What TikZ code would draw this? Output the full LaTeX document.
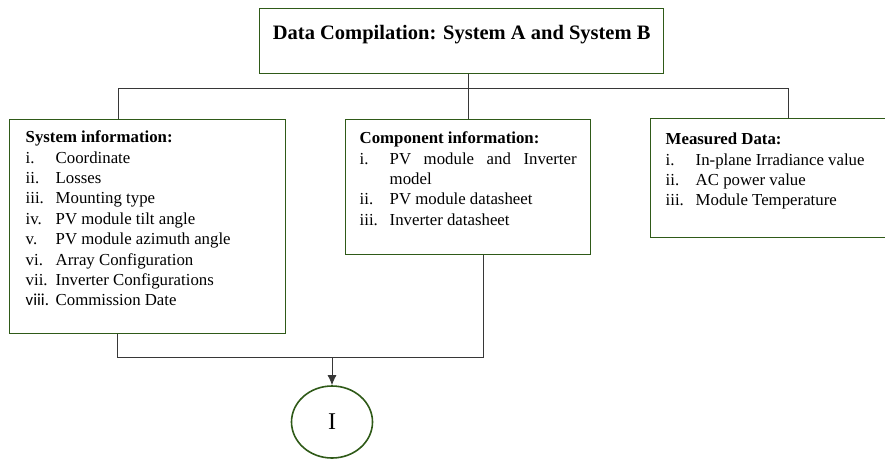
\documentclass[tikz,border=0pt]{standalone}
\usepackage{fontspec}
\setmainfont{Liberation Serif}
\newfontfamily\labelfont{Carlito}
\usetikzlibrary{shapes.geometric,arrows.meta}
\definecolor{boxgreen}{RGB}{47,90,24}
\definecolor{linegray}{RGB}{55,55,55}
\newcommand{\entry}[2]{\hangindent=30pt\hangafter=1\noindent\makebox[30pt][l]{#1}#2\par}

\begin{document}
\begin{tikzpicture}[x=1pt,y=-1pt,
    box/.style={draw=boxgreen,line width=1.4pt,shape=rectangle,anchor=north west,inner ysep=8.7pt,font=\fontsize{16.8}{20.4}\selectfont},
    link/.style={draw=linegray,line width=0.9pt}]
  \clip (0,0) rectangle (885,459);
  % top box
  \node[box,inner xsep=10pt,inner ysep=14.2pt,font=\bfseries\fontsize{20.5}{24}\selectfont] (title) at (259,8)
    {\parbox[t][36.6pt][t]{384pt}{\centering\strut Data Compilation: System A and System B}};
  % the three information boxes
  \node[box,inner xsep=16pt] (sysinfo) at (9,119)
    {\parbox[t][196.6pt][t]{244pt}{\strut\textbf{System information:}\par
      \entry{i.}{Coordinate}
      \entry{ii.}{Losses}
      \entry{iii.}{Mounting type}
      \entry{iv.}{PV module tilt angle}
      \entry{v.}{PV module azimuth angle}
      \entry{vi.}{Array Configuration}
      \entry{vii.}{Inverter Configurations}
      \entry{{\labelfont viii.}}{Commission Date}}};
  \node[box,inner xsep=14pt,inner ysep=9.7pt] (compinfo) at (345,119)
    {\parbox[t][115.6pt][t]{217pt}{\strut\textbf{Component information:}\par
      \entry{i.}{PV module and Inverter model}
      \entry{ii.}{PV module datasheet}
      \entry{iii.}{Inverter datasheet}}};
  \node[box,inner xsep=15pt,inner ysep=11.7pt] (measured) at (650,118)
    {\parbox[t][95.6pt][t]{215pt}{\strut\textbf{Measured Data:}\par
      \entry{i.}{In-plane Irradiance value}
      \entry{ii.}{AC power value}
      \entry{iii.}{Module Temperature}}};
  \node[draw=boxgreen,line width=1.6pt,ellipse,minimum width=81pt,minimum height=72pt,inner sep=0pt,font=\fontsize{24}{28}\selectfont] (result) at (332,422) {I};
  % connectors
  \coordinate (busL) at (118,88);
  \coordinate (busR) at (788,88);
  \coordinate (joinL) at (117,357);
  \coordinate (joinR) at (483,357);
  \draw[link] (compinfo.north |- title.south) -- (compinfo.north);
  \draw[link] (busL |- sysinfo.north) -- (busL) -- (busR) -- (busR |- measured.north);
  \draw[link] (joinL |- sysinfo.south) -- (joinL) -- (joinR) -- (joinR |- compinfo.south);
  \draw[link,-{Latex[length=10pt,width=9pt]}] (result.north |- joinL) -- (result.north);
\end{tikzpicture}
\end{document}
